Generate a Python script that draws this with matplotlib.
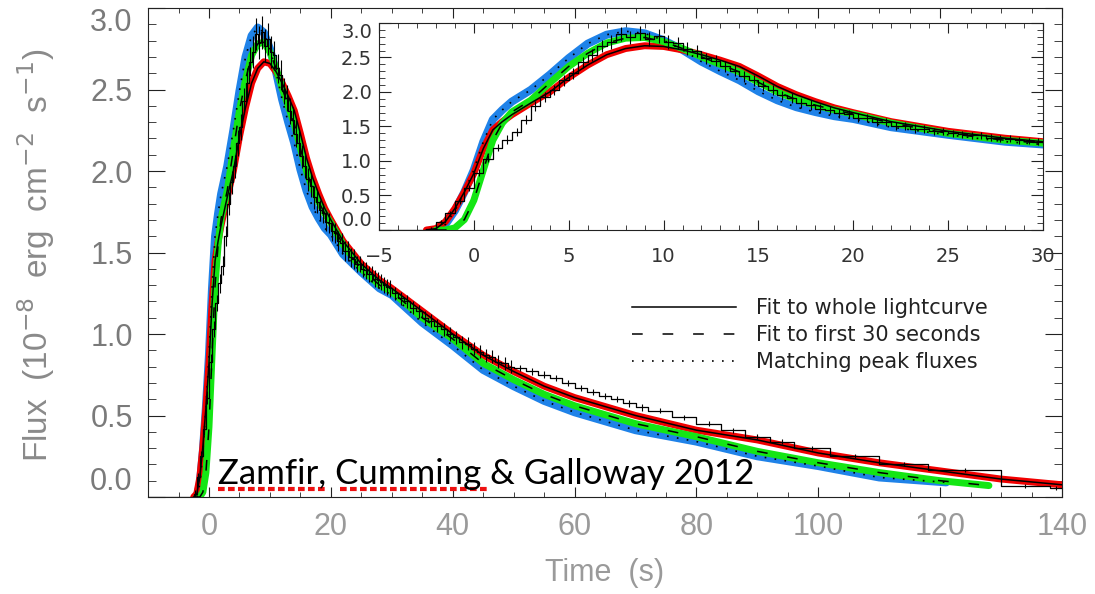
import numpy as np
import matplotlib.pyplot as plt
from matplotlib.lines import Line2D
from matplotlib.ticker import MultipleLocator

# observed burst light curve (flux in 1e-8 erg cm^-2 s^-1), fine bins over the peak
rise_edges = np.arange(-2.5, 30.01, 0.5)
rise_flux = [0.02, 0.12, 0.25, 0.42, 0.61, 0.83, 1.03, 1.19, 1.31, 1.42,
             1.60, 1.80, 1.93, 2.03, 2.17, 2.27, 2.43, 2.54, 2.67, 2.73,
             2.84, 2.79, 2.85, 2.77, 2.81, 2.73, 2.71, 2.63, 2.59, 2.49,
             2.45, 2.37, 2.31, 2.23, 2.17, 2.09, 2.03, 1.95, 1.91, 1.84,
             1.81, 1.76, 1.74, 1.69, 1.68, 1.63, 1.62, 1.57, 1.56, 1.51,
             1.51, 1.47, 1.46, 1.43, 1.43, 1.40, 1.39, 1.37, 1.37, 1.34,
             1.33, 1.32, 1.30, 1.29, 1.28]
rise_err = ([0.02, 0.03, 0.03, 0.04, 0.04] + [0.05, 0.05, 0.05, 0.06, 0.06, 0.06]
            + [0.07, 0.07, 0.07, 0.08, 0.08, 0.08, 0.09, 0.09]
            + [0.1] * 7 + [0.09] * 3 + [0.08] * 6 + [0.07] * 6
            + [0.06] * 12 + [0.05] * 12)

# coarser bins in the tail
tail_edges = [30, 31, 32, 33, 34, 35, 36, 37, 38, 39, 40, 41, 42, 43, 44, 45, 46, 47, 48, 49,
              50, 52, 54, 56, 58, 60, 62, 64, 66, 68, 70,
              72, 76, 80, 84, 88, 92, 96, 102, 110, 118, 130, 138, 140]
tail_flux = [1.25, 1.22, 1.20, 1.16, 1.14, 1.10, 1.08, 1.05, 1.03, 1.00,
             0.98, 0.95, 0.94, 0.91, 0.89, 0.87, 0.86, 0.83, 0.82, 0.80,
             0.79, 0.77, 0.75, 0.73, 0.70, 0.67, 0.645, 0.62, 0.60, 0.575, 0.55,
             0.53, 0.49, 0.45, 0.41, 0.37, 0.34,
             0.30, 0.25, 0.20, 0.165, 0.07, 0.055]
tail_err = [0.04] * 20 + [0.02] * 11 + [0.015] * 6 + [0.012] * 6

# model light curves
t_red = [-2.5, -2.0, -1.5, -1.0, -0.5, 0, 0.5, 1, 1.5, 2, 3, 4, 5, 6, 7, 8, 9, 10, 11, 12,
         13, 14, 15, 16, 17, 18, 19, 20, 22, 25, 28, 30, 35, 40, 45, 50, 55, 60, 70, 80,
         90, 100, 110, 120, 130, 140]
f_red = [0.0, 0.02, 0.12, 0.31, 0.55, 0.82, 1.18, 1.45, 1.57, 1.67, 1.84, 2.00, 2.21, 2.39,
         2.54, 2.63, 2.67, 2.66, 2.61, 2.54, 2.46, 2.37, 2.23, 2.08, 1.96, 1.86, 1.77, 1.70,
         1.57, 1.43, 1.33, 1.28, 1.14, 1.00, 0.87, 0.77, 0.68, 0.61, 0.50, 0.41,
         0.35, 0.27, 0.21, 0.16, 0.11, 0.075]

t_green = [-2.0, -1.5, -1.0, -0.5, 0, 0.5, 1, 1.5, 2, 3, 4, 5, 6, 7, 8, 9, 10, 11, 12,
           13, 14, 15, 16, 17, 18, 19, 20, 22, 25, 28, 30, 35, 40, 45, 50, 55, 60, 70, 80,
           90, 100, 110, 120, 128]
f_green = [0.0, 0.0, 0.03, 0.15, 0.43, 0.87, 1.30, 1.55, 1.71, 1.88, 2.13, 2.37, 2.56, 2.71,
           2.78, 2.79, 2.73, 2.63, 2.51, 2.40, 2.29, 2.14, 2.00, 1.89, 1.81, 1.74, 1.68,
           1.55, 1.40, 1.30, 1.26, 1.10, 0.97, 0.82, 0.72, 0.63, 0.56, 0.45, 0.37,
           0.28, 0.21, 0.15, 0.10, 0.07]

t_blue = [-2.0, -1.5, -1.0, -0.5, 0, 0.5, 1, 1.5, 2, 3, 4, 5, 6, 7, 8, 9, 10, 11, 12,
          13, 14, 15, 16, 17, 18, 19, 20, 22, 25, 28, 30, 35, 40, 45, 50, 55, 60, 70, 80,
          90, 100, 110, 121]
f_blue = [0.0, 0.08, 0.28, 0.55, 0.87, 1.28, 1.60, 1.74, 1.86, 2.03, 2.25, 2.49, 2.70, 2.83,
          2.88, 2.85, 2.75, 2.61, 2.44, 2.30, 2.17, 2.01, 1.88, 1.78, 1.71, 1.65, 1.61,
          1.49, 1.38, 1.28, 1.24, 1.07, 0.93, 0.78, 0.68, 0.59, 0.52, 0.41, 0.34,
          0.25, 0.19, 0.12, 0.09]

y_ticks = [0.0, 0.5, 1.0, 1.5, 2.0, 2.5, 3.0]
y_tick_labels = ['0.0', '0.5', '1.0', '1.5', '2.0', '2.5', '3.0']

legend_labels = ['Fit to whole lightcurve', 'Fit to first 30 seconds', 'Matching peak fluxes']

BLUE = '#1f82e8'
GREEN = '#14e614'
RED = '#f20000'
DASH = (7, 13)
DOT = (1, 5)

# full set of bins, with the pre-burst background as one flat bin
edges = np.concatenate([[-10.0], rise_edges, tail_edges[1:]])
flux = np.concatenate([[0.0], rise_flux, tail_flux])
err = np.concatenate([[0.0], rise_err, tail_err])
centers = 0.5 * (edges[:-1] + edges[1:])


def draw_lightcurve(ax):
    ax.plot(t_blue, f_blue, color=BLUE, lw=5.8, solid_capstyle='round', zorder=2)
    ax.plot(t_red, f_red, color=RED, lw=5, solid_capstyle='round', zorder=3)
    ax.plot(t_green, f_green, color=GREEN, lw=5, solid_capstyle='round', zorder=4)
    ax.step(edges, np.append(flux, flux[-1]), where='post', color='k', lw=0.9, zorder=5)
    ax.errorbar(centers[1:], flux[1:], yerr=err[1:], fmt='none', ecolor='k',
                elinewidth=0.8, zorder=5)
    ax.plot(t_red, f_red, color='k', lw=1.1, zorder=6)
    ax.plot(t_green, f_green, color='k', lw=1.1, dashes=DASH, zorder=6)
    ax.plot(t_blue, f_blue, color='k', lw=1.2, dashes=DOT, zorder=6)


fig = plt.figure(figsize=(10.95, 5.94), dpi=100)

# main panel
ax = fig.add_axes([0.1352, 0.1633, 0.8347, 0.8232])
draw_lightcurve(ax)
ax.set_xlim(-10, 140)
ax.set_ylim(0, 3.0)
ax.xaxis.set_major_locator(MultipleLocator(20))
ax.xaxis.set_minor_locator(MultipleLocator(5))
ax.set_yticks(y_ticks)
ax.set_yticklabels(y_tick_labels)
ax.yaxis.set_minor_locator(MultipleLocator(0.1))
ax.tick_params(which='both', direction='in', top=True, right=True, color='#222222')
ax.tick_params(axis='x', which='major', length=7, pad=11, labelsize=22, labelcolor='#9a9a9a')
ax.tick_params(axis='x', which='minor', length=3.5)
ax.tick_params(axis='y', which='major', length=12, pad=11, labelsize=22, labelcolor='#7a7a7a')
ax.tick_params(axis='y', which='minor', length=6)
for lab in ax.get_xticklabels() + ax.get_yticklabels():
    lab.set_fontfamily('Liberation Sans')
ax.get_yticklabels()[0].set_va('bottom')
ax.get_yticklabels()[-1].set_va('top')
for s in ax.spines.values():
    s.set_color('#222222')

ax.set_xlabel('Time  (s)', fontsize=22, color='#9a9a9a', family='Liberation Sans')
ax.xaxis.set_label_coords(0.5, -0.125)
ax.set_ylabel('Flux  (10$^{-8}$  erg  cm$^{-2}$  s$^{-1}$)', fontsize=24, color='#8a8a8a',
              family='Liberation Sans')
ax.yaxis.set_label_coords(-0.1, 0.495)

handles = [Line2D([], [], color='k', lw=1.1),
           Line2D([], [], color='k', lw=1.1, dashes=DASH),
           Line2D([], [], color='k', lw=1.2, dashes=DOT)]
leg = ax.legend(handles, legend_labels, loc='center left',
                bbox_to_anchor=(632 / 1095, 1 - 335 / 594), bbox_transform=fig.transFigure,
                frameon=False, fontsize=15, handlelength=5.0, handletextpad=0.95,
                labelspacing=0.33, borderpad=0, borderaxespad=0)
for txt in leg.get_texts():
    txt.set_color('#222222')

# inset zoom on the first 30 seconds
axi = fig.add_axes([0.3461, 0.6128, 0.6064, 0.3485])
axi.set_facecolor('white')
draw_lightcurve(axi)
axi.set_xlim(-5, 30)
axi.set_ylim(0, 3.0)
axi.xaxis.set_major_locator(MultipleLocator(5))
axi.xaxis.set_minor_locator(MultipleLocator(1))
axi.set_yticks(y_ticks)
axi.set_yticklabels(y_tick_labels)
axi.yaxis.set_minor_locator(MultipleLocator(0.1))
axi.tick_params(which='both', direction='in', top=True, right=True, color='#222222',
                labelcolor='#333333', labelsize=14)
axi.tick_params(axis='x', which='major', length=7, pad=12)
axi.tick_params(axis='x', which='minor', length=3.5)
axi.tick_params(axis='y', which='major', length=8.5, pad=5)
axi.tick_params(axis='y', which='minor', length=4.5)
axi.get_yticklabels()[0].set_va('bottom')
axi.get_yticklabels()[-1].set_va('top')
for s in axi.spines.values():
    s.set_color('#222222')

# citation
fig.text(218 / 1095, 1 - 484 / 594, 'Zamfir, Cumming & Galloway 2012', fontsize=25,
         family='Lato', color='black', va='baseline', zorder=10)
for x0, x1 in [(218, 326), (340, 488)]:
    fig.add_artist(Line2D([x0 / 1095, x1 / 1095], [1 - 489 / 594, 1 - 489 / 594],
                          color='#ee1111', lw=3, dashes=(1.6, 0.8), zorder=10))

fig.savefig('out.png', dpi=100)
